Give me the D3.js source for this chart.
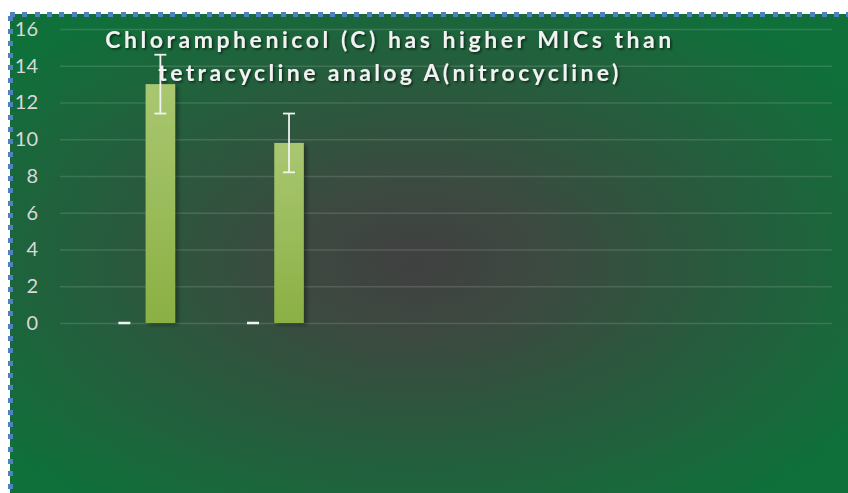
<!DOCTYPE html>
<html>
<head>
<meta charset="utf-8">
<script src="https://cdn.jsdelivr.net/npm/d3@7"></script>
<style>
  html, body { margin: 0; padding: 0; background: #ffffff; }
  svg { display: block; }
</style>
</head>
<body>
<div id="chart"></div>
<script>
// data
var categories = ["1", "2", "3", "4", "5", "6"];
var seriesNames = ["S1", "S2", "S3"];
var s1Values = [null, null, null, null, null, null];
var s2Values = [0, 0, null, null, null, null];
var s2Errors = [0, 0, null, null, null, null];
var s3Values = [13, 9.8, null, null, null, null];
var s3Errors = [1.6, 1.6, null, null, null, null];
var yTicks = [0, 2, 4, 6, 8, 10, 12, 14, 16];
var titleLines = ["Chloramphenicol (C) has higher MICs than", "tetracycline analog A(nitrocycline)"];

var width = 848, height = 493;

var svg = d3.select("#chart").append("svg")
    .attr("width", width)
    .attr("height", height);

var defs = svg.append("defs");

// background gradient (dark centre, green edges)
var bg = defs.append("radialGradient")
    .attr("id", "bgGrad")
    .attr("cx", "0.48").attr("cy", "0.5").attr("r", "0.62");
bg.append("stop").attr("offset", "0").attr("stop-color", "#404040");
bg.append("stop").attr("offset", "0.25").attr("stop-color", "#3c4a40");
bg.append("stop").attr("offset", "1").attr("stop-color", "#0f703a");

var barGrad = defs.append("linearGradient")
    .attr("id", "barGrad")
    .attr("x1", 0).attr("y1", 0).attr("x2", 0).attr("y2", 1);
barGrad.append("stop").attr("offset", "0").attr("stop-color", "#a9c771");
barGrad.append("stop").attr("offset", "1").attr("stop-color", "#8bb044");

var barShadow = defs.append("filter").attr("id", "barShadow")
    .attr("x", "-30%").attr("y", "-10%").attr("width", "160%").attr("height", "120%");
barShadow.append("feDropShadow")
    .attr("dx", 3).attr("dy", 2).attr("stdDeviation", 2)
    .attr("flood-color", "#000").attr("flood-opacity", 0.35);

var textShadow = defs.append("filter").attr("id", "textShadow")
    .attr("x", "-5%").attr("y", "-30%").attr("width", "110%").attr("height", "160%");
textShadow.append("feDropShadow")
    .attr("dx", 1.5).attr("dy", 1.5).attr("stdDeviation", 1.2)
    .attr("flood-color", "#000").attr("flood-opacity", 0.6);

// chart area with dashed selection border
svg.append("rect")
    .attr("x", 10).attr("y", 14)
    .attr("width", width).attr("height", height)
    .attr("fill", "url(#bgGrad)");
svg.append("rect")
    .attr("x", 10).attr("y", 14.5)
    .attr("width", width + 20).attr("height", height + 20)
    .attr("fill", "none")
    .attr("stroke", "#4f81bd")
    .attr("stroke-width", 5)
    .attr("stroke-dasharray", "5,7.3")
    .attr("shape-rendering", "crispEdges");

// scales
var x0 = d3.scaleBand()
    .domain(categories)
    .range([60, 832])
    .paddingInner(0.16)
    .paddingOuter(0.08);

var x1 = d3.scaleBand()
    .domain(seriesNames)
    .range([0, x0.bandwidth()])
    .paddingInner(0.18)
    .paddingOuter(0.09);

var y = d3.scaleLinear()
    .domain([0, 16])
    .range([323, 29]);

// gridlines
var grid = svg.append("g")
    .attr("transform", "translate(60,0)")
    .call(d3.axisLeft(y).tickValues(yTicks).tickSize(-772).tickFormat(""));
grid.select(".domain").remove();
grid.selectAll(".tick line")
    .attr("stroke", "#ffffff")
    .attr("stroke-opacity", 0.13)
    .attr("stroke-width", 1.6);

// y axis labels
var yAxis = svg.append("g")
    .attr("transform", "translate(38,0)")
    .call(d3.axisLeft(y).tickValues(yTicks).tickSize(0).tickPadding(0));
yAxis.select(".domain").remove();
yAxis.selectAll(".tick text")
    .attr("fill", "#d9d9d9")
    .attr("font-family", "Lato, 'Open Sans', sans-serif")
    .attr("font-size", "20px");

// bars for the third series
var barData = categories.map(function (c, i) {
    return {cat: c, value: s3Values[i], err: s3Errors[i]};
}).filter(function (d) { return d.value != null; });

svg.append("g").selectAll("rect")
    .data(barData)
    .enter()
    .append("rect")
    .attr("x", function (d) { return x0(d.cat) + x1("S3"); })
    .attr("y", function (d) { return y(d.value); })
    .attr("width", x1.bandwidth())
    .attr("height", function (d) { return y(0) - y(d.value); })
    .attr("fill", "url(#barGrad)")
    .attr("filter", "url(#barShadow)");

// error bars (second series is zero with zero error: only the cap shows)
var errData = [];
categories.forEach(function (c, i) {
    if (s2Values[i] != null) errData.push({cat: c, s: "S2", value: s2Values[i], err: s2Errors[i]});
    if (s3Values[i] != null) errData.push({cat: c, s: "S3", value: s3Values[i], err: s3Errors[i]});
});

var capW = 12;
var eb = svg.append("g")
    .attr("stroke", "#f2f2f2")
    .attr("stroke-width", 1.8)
    .selectAll("g")
    .data(errData)
    .enter()
    .append("g");

eb.append("line")
    .attr("x1", function (d) { return x0(d.cat) + x1(d.s) + x1.bandwidth() / 2; })
    .attr("x2", function (d) { return x0(d.cat) + x1(d.s) + x1.bandwidth() / 2; })
    .attr("y1", function (d) { return y(d.value + d.err); })
    .attr("y2", function (d) { return y(d.value - d.err); });
eb.append("line")
    .attr("x1", function (d) { return x0(d.cat) + x1(d.s) + x1.bandwidth() / 2 - capW / 2; })
    .attr("x2", function (d) { return x0(d.cat) + x1(d.s) + x1.bandwidth() / 2 + capW / 2; })
    .attr("y1", function (d) { return y(d.value + d.err); })
    .attr("y2", function (d) { return y(d.value + d.err); })
    .attr("stroke-width", function (d) { return d.err === 0 ? 2.5 : 1.8; });
eb.filter(function (d) { return d.err > 0; }).append("line")
    .attr("x1", function (d) { return x0(d.cat) + x1(d.s) + x1.bandwidth() / 2 - capW / 2; })
    .attr("x2", function (d) { return x0(d.cat) + x1(d.s) + x1.bandwidth() / 2 + capW / 2; })
    .attr("y1", function (d) { return y(d.value - d.err); })
    .attr("y2", function (d) { return y(d.value - d.err); });

// title, spread out to match the original width
var titleWidths = [566, 460];
var titleBase = [48, 81];
var title = svg.append("g").attr("filter", "url(#textShadow)");
titleLines.forEach(function (line, i) {
    var t = title.append("text")
        .attr("x", 390)
        .attr("y", titleBase[i])
        .attr("text-anchor", "middle")
        .attr("fill", "#f2f2f2")
        .attr("font-family", "Lato, 'Open Sans', sans-serif")
        .attr("font-weight", "bold")
        .attr("font-size", "23px")
        .text(line);
    var len = t.node().getComputedTextLength();
    var sp = (titleWidths[i] - len) / (line.length - 1);
    t.attr("letter-spacing", sp + "px");
});
</script>
</body>
</html>
